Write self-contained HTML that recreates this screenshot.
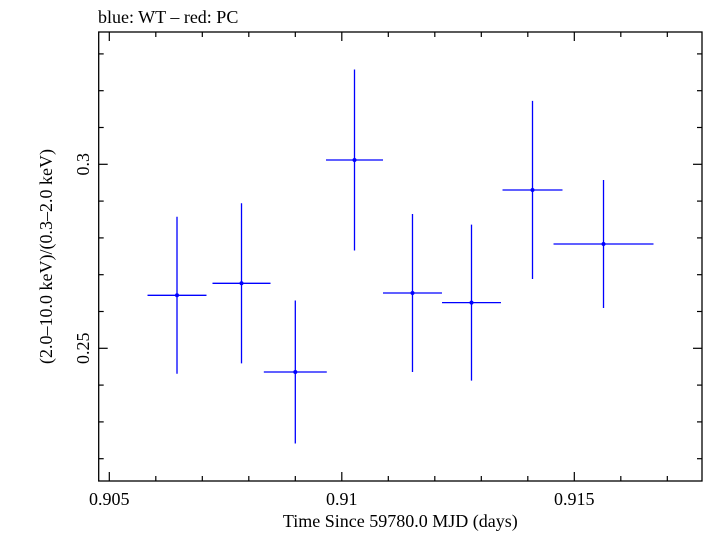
<!DOCTYPE html>
<html><head><meta charset="utf-8"><style>
body{margin:0;background:#fff;}
svg text{font-family:"Liberation Serif",serif;fill:#000;}
</style></head><body>
<svg width="705" height="532" xmlns="http://www.w3.org/2000/svg">
<g id="g"></g>
</svg>
<script>
const xs=[0.906456,0.907843,0.909000,0.910273,0.911520,0.912789,0.914101,0.915628];
const xerr=[0.000634,0.000624,0.000677,0.000613,0.000634,0.000634,0.000645,0.001075];
const ys=[0.26440,0.26766,0.24356,0.30117,0.26503,0.26242,0.29302,0.27834];
const yerr=[0.02133,0.02174,0.01943,0.0246,0.02147,0.0212,0.0242,0.0174];
const xTicks=[0.905,0.91,0.915];
const xTickLabels=["0.905","0.91","0.915"];
const yTicks=[0.25,0.3];
const yTickLabels=["0.25","0.3"];
const L=98.7,R=702,T=32,B=481;
const X0=0.904772,X1=0.917746,Y0=0.21394,Y1=0.33595;
const sx=v=>L+(v-X0)/(X1-X0)*(R-L);
const sy=v=>B-(v-Y0)/(Y1-Y0)*(B-T);
const g=document.getElementById('g');
const NS="http://www.w3.org/2000/svg";
function mk(t,a){const e=document.createElementNS(NS,t);for(const k in a)e.setAttribute(k,a[k]);g.appendChild(e);return e;}
let e;
e=mk('rect',{x:L,y:T,width:R-L,height:B-T,fill:'none',stroke:'#000','stroke-width':1.3});


for(let v=0.905;v<=0.9176;v+=0.001){const major=Math.abs(v*200-Math.round(v*200))<1e-6;const len=major?9:5;const px=sx(v);
e=mk('line',{x1:px,x2:px,y1:B,y2:B-len,stroke:'#000','stroke-width':1.2});


e=mk('line',{x1:px,x2:px,y1:T,y2:T+len,stroke:'#000','stroke-width':1.2});

}
for(let v=0.22;v<=0.336;v+=0.01){const major=Math.abs(v*20-Math.round(v*20))<1e-6;const len=major?9:5;const py=sy(v);
e=mk('line',{x1:L,x2:L+len,y1:py,y2:py,stroke:'#000','stroke-width':1.2});


e=mk('line',{x1:R,x2:R-len,y1:py,y2:py,stroke:'#000','stroke-width':1.2});

}
xTicks.forEach((v,i)=>{e=mk('text',{x:sx(v),y:505,'font-size':18,'text-anchor':'middle'});e.textContent=xTickLabels[i];

});
yTicks.forEach((v,i)=>{const py=sy(v);e=mk('text',{x:0,y:0,'font-size':18,'text-anchor':'middle',transform:`translate(89,${py}) rotate(-90)`});e.textContent=yTickLabels[i];

});
xs.forEach((x,i)=>{const px=sx(x),py=sy(ys[i]);
e=mk('line',{x1:sx(x-xerr[i]),x2:sx(x+xerr[i]),y1:py,y2:py,stroke:'#0000ff','stroke-width':1.3});


e=mk('line',{x1:px,x2:px,y1:sy(ys[i]+yerr[i]),y2:sy(ys[i]-yerr[i]),stroke:'#0000ff','stroke-width':1.3});


e=mk('circle',{cx:px,cy:py,r:2,fill:'#0000ff'});

});
e=mk('text',{x:98,y:23,'font-size':18});e.textContent='blue: WT \u2013 red: PC';


e=mk('text',{x:(L+R)/2,y:527,'font-size':18,'text-anchor':'middle'});e.textContent='Time Since 59780.0 MJD (days)';


e=mk('text',{x:0,y:0,'font-size':18,'text-anchor':'middle',transform:`translate(52,${(T+B)/2}) rotate(-90)`});e.textContent='(2.0\u201310.0 keV)/(0.3\u20132.0 keV)';


</script>
</body></html>
